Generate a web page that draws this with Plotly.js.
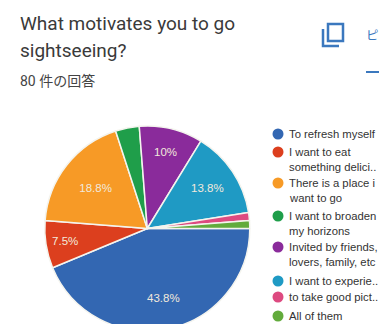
<!DOCTYPE html>
<html>
<head>
<meta charset="utf-8">
<script src="https://cdn.plot.ly/plotly-3.0.1.min.js"></script>
<style>
html,body{margin:0;padding:0;width:379px;height:324px;overflow:hidden;background:#fff}
#chart{width:379px;height:340px}
</style>
</head>
<body>
<div id="chart"></div>
<script>
// Survey responses (80 in total) per motivation
const categories = ['To refresh myself', 'I want to eat something delici..', 'There is a place i want to go',
  'I want to broaden my horizons', 'Invited by friends, lovers, family, etc', 'I want to experie..',
  'to take good pict..', 'All of them'];
const responses = [35, 6, 15, 3, 8, 11, 1, 1];
const sliceLabels = ['', '7.5%', '18.8%', '', '10%', '13.8%', '', ''];
const largestSliceLabel = '43.8%';
const sliceColors = ['#3367b2', '#dc3f1e', '#f79a26', '#1f9e4a', '#8a2b9b', '#1f9ac4', '#dd4a80', '#62ab3c'];
const legendLines = [['To refresh myself'], ['I want to eat', 'something delici..'], ['There is a place i', 'want to go'],
  ['I want to broaden', 'my horizons'], ['Invited by friends,', 'lovers, family, etc'], ['I want to experie..'],
  ['to take good pict..'], ['All of them']];
const legendRowTops = [134, 152, 183, 216, 247, 281, 297, 316];

const W = 379, H = 340;
const px = x => x / W;
const py = y => 1 - y / H;
const textColor = '#3a3a3a';
const accent = '#3b78be';
const sliceTextColor = '#f2e9dc';

// Left-aligned text placed by its pixel start; plotly pads annotations by 2px
function note(text, x, y, size, color, family) {
  return {text, x: px(x - 2), y: py(y), xref: 'paper', yref: 'paper', xanchor: 'left', yanchor: 'middle',
    showarrow: false, align: 'left', font: {size, color, family}};
}

const annotations = [
  note('What motivates you to go', 20, 24, 19, textColor, 'Roboto'),
  note('sightseeing?', 20, 50, 19, textColor, 'Roboto'),
  note('80 件の回答', 20, 81, 14, '#444', 'Roboto, "Noto Sans CJK JP"'),
  note('ピ', 366, 35, 12.5, accent, '"Noto Sans CJK JP"'),
  {text: largestSliceLabel, x: px(163), y: py(306), xref: 'paper', yref: 'paper', showarrow: false,
    font: {size: 11.5, color: sliceTextColor, family: 'Liberation Sans'}}
];

const shapes = [
  // copy icon
  {type: 'rect', xref: 'paper', yref: 'paper', x0: px(328), x1: px(343), y0: py(24), y1: py(41),
    line: {color: accent, width: 2.5}},
  {type: 'path', xref: 'paper', yref: 'paper',
    path: `M ${px(323)} ${py(29)} L ${px(323)} ${py(46)} L ${px(339)} ${py(46)}`,
    line: {color: accent, width: 2.5}},
  // active tab underline
  {type: 'line', xref: 'paper', yref: 'paper', x0: px(366), x1: px(379), y0: py(72), y1: py(72),
    line: {color: accent, width: 2}}
];

legendLines.forEach((lines, i) => {
  const top = legendRowTops[i];
  shapes.push({type: 'circle', xref: 'paper', yref: 'paper',
    x0: px(272.5), x1: px(283.5), y0: py(top - 5.5), y1: py(top + 5.5),
    fillcolor: sliceColors[i], line: {width: 0}});
  lines.forEach((line, j) => {
    annotations.push(note(line, 289, top + j * 15, 11.3, '#333', 'Liberation Sans'));
  });
});

Plotly.newPlot('chart', [{
  type: 'pie',
  labels: categories,
  values: responses,
  text: sliceLabels,
  textinfo: 'text',
  textposition: 'inside',
  insidetextorientation: 'horizontal',
  sort: false,
  direction: 'clockwise',
  rotation: 90,
  marker: {colors: sliceColors, line: {color: '#f4f4ee', width: 1.5}},
  insidetextfont: {color: sliceTextColor, size: 11.5, family: 'Liberation Sans'},
  domain: {x: [px(44.8), px(249.8)], y: [py(331), py(126)]}
}], {
  width: W, height: H,
  margin: {l: 0, r: 0, t: 0, b: 0},
  paper_bgcolor: '#fff',
  showlegend: false,
  annotations, shapes
}, {displayModeBar: false, staticPlot: true});
</script>
</body>
</html>
